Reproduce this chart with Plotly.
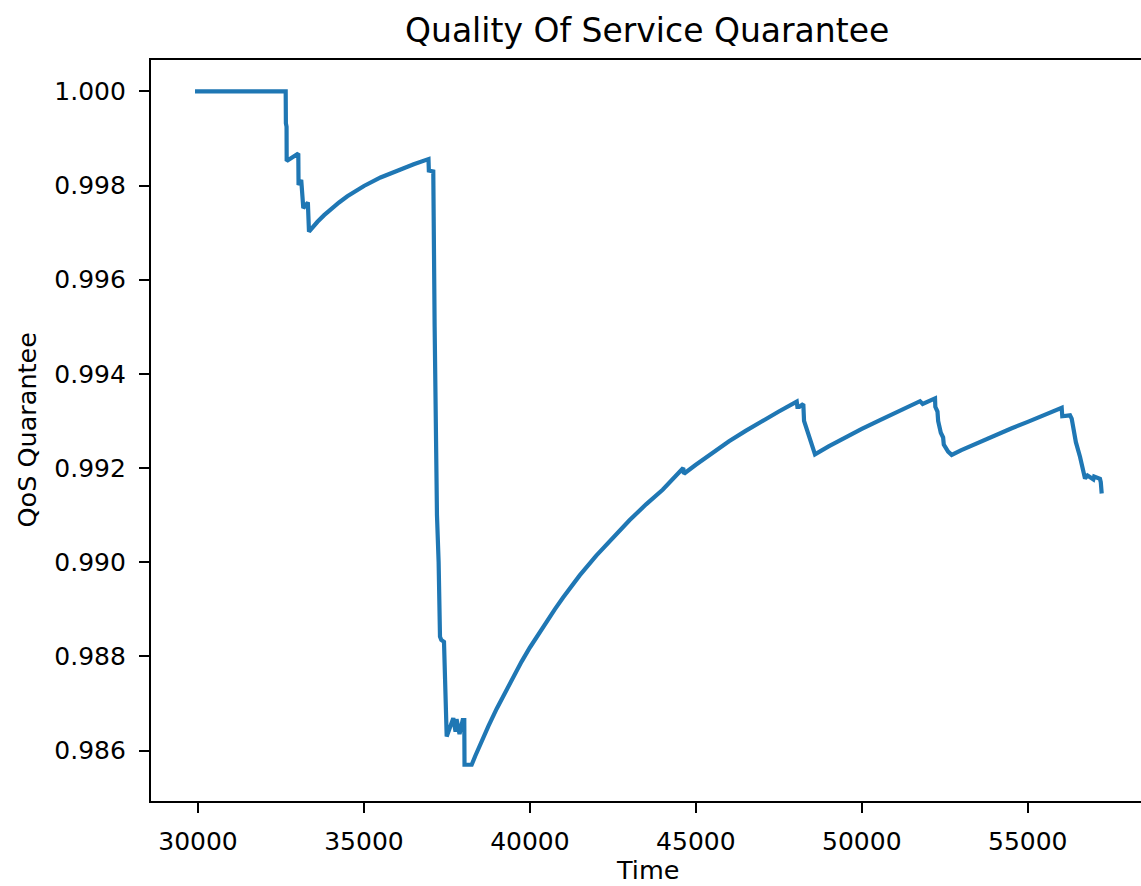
import plotly.graph_objects as go

# QoS guarantee over time
time = [
    29910, 32642, 32648, 32668, 32672, 32840, 33022, 33030, 33110, 33173,
    33310, 33344, 33450, 33600, 33800, 34000, 34250, 34500, 35000, 35500,
    36000, 36500, 36945, 36955, 37089, 37110, 37130, 37200, 37250, 37291,
    37330, 37412, 37450, 37493, 37692, 37760, 37790, 37880, 37975, 38023,
    38030, 38246, 38350, 38500, 38750, 39000, 39250, 39500, 39750, 40000,
    40250, 40500, 40750, 41000, 41250, 41500, 42000, 42500, 43000, 43500,
    44000, 44620, 44640, 45000, 45500, 46000, 46500, 47000, 47500, 48039,
    48060, 48117, 48238, 48260, 48420, 48490, 48560, 48590, 49000, 49500,
    50000, 50548, 51000, 51500, 51753, 51834, 52206, 52215, 52280, 52300,
    52380, 52450, 52470, 52600, 52708, 53000, 53500, 54000, 54500, 55000,
    55500, 56022, 56040, 56273, 56324, 56450, 56574, 56650, 56725, 56800,
    56876, 56976, 57000, 57176, 57200, 57228,
]
qos = [
    1.00000, 1.00000, 0.99932, 0.99925, 0.99852, 0.99861, 0.99868, 0.99801, 0.99812, 0.99752,
    0.99764, 0.99702, 0.99711, 0.99723, 0.99737, 0.99750, 0.99764, 0.99777, 0.99799, 0.99817,
    0.99832, 0.99845, 0.99856, 0.99832, 0.99830, 0.99630, 0.99500, 0.99100, 0.99000, 0.98842,
    0.98835, 0.98831, 0.98700, 0.98630, 0.98669, 0.98640, 0.98667, 0.98635, 0.98665, 0.98665,
    0.98570, 0.98570, 0.98588, 0.98613, 0.98652, 0.98689, 0.98724, 0.98757, 0.98789, 0.98819,
    0.98847, 0.98875, 0.98900, 0.98925, 0.98949, 0.98972, 0.99014, 0.99053, 0.99089, 0.99123,
    0.99154, 0.99200, 0.99188, 0.99207, 0.99233, 0.99257, 0.99279, 0.99300, 0.99320, 0.99341,
    0.99330, 0.99330, 0.99336, 0.99300, 0.99265, 0.99249, 0.99235, 0.99229, 0.99246, 0.99265,
    0.99283, 0.99302, 0.99317, 0.99333, 0.99342, 0.99336, 0.99348, 0.99330, 0.99320, 0.99300,
    0.99275, 0.99265, 0.99250, 0.99235, 0.99228, 0.99238, 0.99254, 0.99269, 0.99284, 0.99298,
    0.99312, 0.99328, 0.99310, 0.99312, 0.99305, 0.99255, 0.99224, 0.99200, 0.99178, 0.99184,
    0.99180, 0.99176, 0.99182, 0.99177, 0.99170, 0.99146,
]

x_ticks = [30000, 35000, 40000, 45000, 50000, 55000]
y_ticks = [0.986, 0.988, 0.990, 0.992, 0.994, 0.996, 0.998, 1.000]

FONT = "DejaVu Sans"
TICK_SIZE = 25
LABEL_SIZE = 25.5
TITLE_SIZE = 33

fig = go.Figure()
fig.add_trace(go.Scatter(
    x=time, y=qos, mode="lines",
    line=dict(color="#1f77b4", width=4.2),
    hoverinfo="skip", showlegend=False,
))

fig.update_layout(
    width=1141, height=886,
    margin=dict(l=151, r=0, t=60, b=85),
    paper_bgcolor="white", plot_bgcolor="white",
    font=dict(family=FONT, color="black", size=TICK_SIZE),
    showlegend=False,
)

fig.update_xaxes(
    range=[28584, 58412],
    tickvals=x_ticks, ticktext=[str(v) for v in x_ticks],
    showgrid=False, zeroline=False,
    showline=True, linecolor="black", linewidth=2.2, mirror=True,
    ticks="outside", ticklen=10, tickwidth=2.2, tickcolor="black",
    ticklabelstandoff=7,
    tickfont=dict(family=FONT, size=TICK_SIZE, color="black"),
)
fig.update_yaxes(
    range=[0.98493, 1.000665],
    tickvals=y_ticks, ticktext=[f"{v:.3f}" for v in y_ticks],
    showgrid=False, zeroline=False,
    showline=True, linecolor="black", linewidth=2.2, mirror=False,
    ticks="outside", ticklen=10, tickwidth=2.2, tickcolor="black",
    ticklabelstandoff=8,
    tickfont=dict(family=FONT, size=TICK_SIZE, color="black"),
)

# title and axis labels
fig.add_annotation(
    text="Quality Of Service Quarantee", xref="paper", yref="paper",
    x=(647 - 151) / 990, y=1, xanchor="center", yanchor="bottom",
    yshift=8, showarrow=False,
    font=dict(family=FONT, size=TITLE_SIZE, color="black"),
)
fig.add_annotation(
    text="Time", xref="paper", yref="paper",
    x=(647 - 151) / 990, y=0, xanchor="center", yanchor="top",
    yshift=-52, showarrow=False,
    font=dict(family=FONT, size=LABEL_SIZE, color="black"),
)
fig.add_annotation(
    text="QoS Quarantee", xref="paper", yref="paper",
    x=0, y=0.5, xanchor="center", yanchor="middle", textangle=-90,
    xshift=-125, showarrow=False,
    font=dict(family=FONT, size=LABEL_SIZE, color="black"),
)

fig.write_html("out.html")
